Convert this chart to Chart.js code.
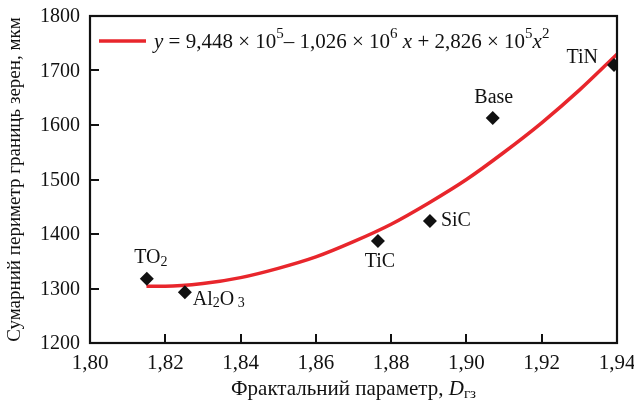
<!DOCTYPE html>
<html>
<head>
<meta charset="utf-8">
<script src="https://cdn.jsdelivr.net/npm/chart.js@4.4.1/dist/chart.umd.min.js"></script>
<style>
  html, body { margin: 0; padding: 0; background: #fff; }
  #wrap { width: 634px; height: 402px; position: relative; }
</style>
</head>
<body>
<div id="wrap"><canvas id="c" width="634" height="402"></canvas></div>
<script>
// Measured samples: fractal parameter vs total grain-boundary perimeter
const materials = ['TO2', 'Al2O3', 'TiC', 'SiC', 'Base', 'TiN'];
const fractalD = [1.8151, 1.8252, 1.8765, 1.8903, 1.9070, 1.9392];
const perimeter = [1318, 1293, 1387, 1424, 1613, 1710];

// Regression curve, sampled along the fitted line
const fitX = [1.815, 1.82, 1.83, 1.84, 1.85, 1.86, 1.87, 1.88, 1.89, 1.90, 1.91, 1.92, 1.93, 1.94];
const fitY = [1304, 1304, 1309, 1320, 1337, 1358, 1386, 1418, 1457, 1500, 1550, 1604, 1664, 1730];

const xTicks = [1.80, 1.82, 1.84, 1.86, 1.88, 1.90, 1.92, 1.94];
const yTicks = [1200, 1300, 1400, 1500, 1600, 1700, 1800];

const SERIF = '"Liberation Serif", "Times New Roman", serif';
const RED = '#e8262c';
const INK = '#111';

// Label runs: [text, style] where style is n (normal), i (italic), sub, sup
const labelRuns = {
  'TO2':   [['TO', 'n'], ['2', 'sub']],
  'Al2O3': [['Al', 'n'], ['2', 'sub'], ['O', 'n'], [' 3', 'sub']],
  'TiC':   [['TiC', 'n']],
  'SiC':   [['SiC', 'n']],
  'Base':  [['Base', 'n']],
  'TiN':   [['TiN', 'n']]
};
// label placement relative to the marker: [dx, dy, align]
const labelPos = {
  'TO2':   [4, -21, 'center'],
  'Al2O3': [8, 7, 'left'],
  'TiC':   [2, 21, 'center'],
  'SiC':   [11, 0, 'left'],
  'Base':  [1, -20, 'center'],
  'TiN':   [-16, -7, 'right']
};

function runFont(style, size) {
  const small = Math.round(size * 0.7);
  if (style === 'i') return 'italic ' + size + 'px ' + SERIF;
  if (style === 'sub' || style === 'sup') return small + 'px ' + SERIF;
  return size + 'px ' + SERIF;
}
function runShift(style, size) {
  if (style === 'sub') return size * 0.22;
  if (style === 'sup') return -size * 0.36;
  return 0;
}
function runsWidth(ctx, runs, size) {
  let w = 0;
  for (const [t, s] of runs) { ctx.font = runFont(s, size); w += ctx.measureText(t).width; }
  return w;
}
function drawRuns(ctx, runs, x, y, size, align) {
  const w = runsWidth(ctx, runs, size);
  let cx = x;
  if (align === 'center') cx = x - w / 2;
  else if (align === 'right') cx = x - w;
  ctx.textAlign = 'left';
  ctx.textBaseline = 'middle';
  for (const [t, s] of runs) {
    ctx.font = runFont(s, size);
    ctx.fillText(t, cx, y + runShift(s, size));
    cx += ctx.measureText(t).width;
  }
}

const decorations = {
  id: 'decorations',
  afterDraw(chart) {
    const ctx = chart.ctx;
    const a = chart.chartArea;
    const xs = chart.scales.x, ys = chart.scales.y;
    ctx.save();
    ctx.fillStyle = INK;
    ctx.strokeStyle = INK;

    // frame
    ctx.lineWidth = 2.2;
    ctx.strokeRect(a.left, a.top, a.right - a.left, a.bottom - a.top);

    // inward ticks and tick labels
    ctx.lineWidth = 2;
    ctx.beginPath();
    for (const v of xTicks) {
      const px = Math.round(xs.getPixelForValue(v));
      ctx.moveTo(px, a.bottom); ctx.lineTo(px, a.bottom - 9);
    }
    for (const v of yTicks) {
      const py = Math.round(ys.getPixelForValue(v));
      ctx.moveTo(a.left, py); ctx.lineTo(a.left + 9, py);
    }
    ctx.stroke();

    ctx.textBaseline = 'middle';
    ctx.font = '21px ' + SERIF;
    ctx.textAlign = 'center';
    for (const v of xTicks) {
      ctx.fillText(v.toFixed(2).replace('.', ','), xs.getPixelForValue(v), a.bottom + 20);
    }
    ctx.font = '20px ' + SERIF;
    ctx.textAlign = 'right';
    for (const v of yTicks) {
      ctx.fillText(String(v), a.left - 10, ys.getPixelForValue(v) + 1);
    }

    // point labels
    materials.forEach((m, i) => {
      const px = xs.getPixelForValue(fractalD[i]);
      const py = ys.getPixelForValue(perimeter[i]);
      const [dx, dy, al] = labelPos[m];
      drawRuns(ctx, labelRuns[m], px + dx, py + dy, 20, al);
    });

    // legend with regression equation
    ctx.strokeStyle = RED;
    ctx.lineWidth = 3.5;
    ctx.beginPath();
    ctx.moveTo(99, 41); ctx.lineTo(146, 41);
    ctx.stroke();
    ctx.fillStyle = INK;
    drawRuns(ctx, [
      ['y', 'i'], [' = 9,448 × 10', 'n'], ['5', 'sup'], ['– 1,026 × 10', 'n'], ['6', 'sup'],
      [' x', 'i'], [' + 2,826 × 10', 'n'], ['5', 'sup'], ['x', 'i'], ['2', 'sup']
    ], 154, 42, 21, 'left');

    // x axis title
    drawRuns(ctx, [['Фрактальний параметр, ', 'n'], ['D', 'i'], ['гз', 'sub']],
      (a.left + a.right) / 2, 389, 21, 'center');

    // y axis title
    ctx.save();
    ctx.translate(15, (a.top + a.bottom) / 2);
    ctx.rotate(-Math.PI / 2);
    drawRuns(ctx, [['Сумарний периметр границь зерен, мкм', 'n']], 0, 0, 19, 'center');
    ctx.restore();

    ctx.restore();
  }
};

new Chart(document.getElementById('c'), {
  type: 'scatter',
  data: {
    datasets: [
      {
        label: 'fit',
        data: fitX.map((x, i) => ({ x, y: fitY[i] })),
        showLine: true,
        borderColor: RED,
        borderWidth: 3.5,
        pointRadius: 0,
        cubicInterpolationMode: 'monotone',
        order: 2
      },
      {
        label: 'samples',
        data: fractalD.map((x, i) => ({ x, y: perimeter[i] })),
        pointStyle: 'rectRot',
        pointRadius: 7,
        backgroundColor: INK,
        borderColor: INK,
        borderWidth: 0,
        order: 1
      }
    ]
  },
  options: {
    responsive: false,
    animation: false,
    layout: { padding: { left: 0, top: 16, right: 17, bottom: 0 } },
    plugins: { legend: { display: false }, tooltip: { enabled: false } },
    scales: {
      x: {
        type: 'linear',
        min: 1.80, max: 1.94,
        grid: { display: false, drawTicks: false },
        border: { display: false },
        ticks: { display: false },
        afterBuildTicks: s => { s.ticks = xTicks.map(v => ({ value: v })); },
        afterFit: s => { s.height = 59; }
      },
      y: {
        type: 'linear',
        min: 1200, max: 1800,
        grid: { display: false, drawTicks: false },
        border: { display: false },
        ticks: { display: false },
        afterBuildTicks: s => { s.ticks = yTicks.map(v => ({ value: v })); },
        afterFit: s => { s.width = 90; }
      }
    }
  },
  plugins: [decorations]
});
</script>
</body>
</html>
